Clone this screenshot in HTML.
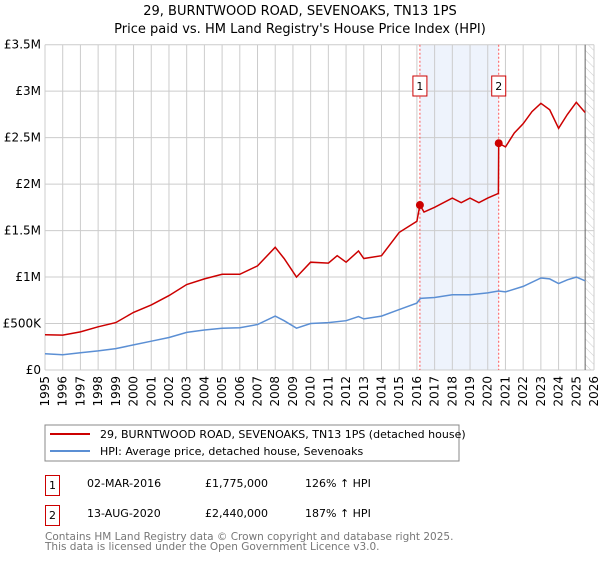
<!DOCTYPE html>
<html><head><meta charset="utf-8"><style>
body{margin:0;background:#fff;font-family:"DejaVu Sans","Liberation Sans",sans-serif;}
svg text{font-family:"DejaVu Sans","Liberation Sans",sans-serif;}
</style></head><body>
<svg id="chart" width="600" height="560" xmlns="http://www.w3.org/2000/svg">
<defs><pattern id="hatch" width="6" height="6" patternUnits="userSpaceOnUse" patternTransform="rotate(-45)"><line x1="0" y1="0" x2="0" y2="6" stroke="#ccc" stroke-width="1"/></pattern></defs>
<text x="300" y="15" text-anchor="middle" font-size="13">29, BURNTWOOD ROAD, SEVENOAKS, TN13 1PS</text>
<text x="300" y="33" text-anchor="middle" font-size="13">Price paid vs. HM Land Registry's House Price Index (HPI)</text>
<g id="grid"></g><g id="marks"></g><g id="axes"></g>
<rect x="45" y="425" width="414" height="36" fill="#fff" stroke="#888"/>
<line x1="50" y1="434" x2="90" y2="434" stroke="#cc0000" stroke-width="2"/>
<text x="100" y="438" font-size="11">29, BURNTWOOD ROAD, SEVENOAKS, TN13 1PS (detached house)</text>
<line x1="50" y1="451" x2="90" y2="451" stroke="#5b8fd4" stroke-width="2"/>
<text x="100" y="455" font-size="11">HPI: Average price, detached house, Sevenoaks</text>
<rect x="45.5" y="475.5" width="14" height="20" fill="#fff" stroke="#cc0000"/>
<text x="52.5" y="489" text-anchor="middle" font-size="11">1</text>
<text x="87" y="487" font-size="11">02-MAR-2016</text>
<text x="205" y="487" font-size="11">£1,775,000</text>
<text x="305" y="487" font-size="11">126% ↑ HPI</text>
<rect x="45.5" y="505.5" width="14" height="20" fill="#fff" stroke="#cc0000"/>
<text x="52.5" y="519" text-anchor="middle" font-size="11">2</text>
<text x="87" y="517" font-size="11">13-AUG-2020</text>
<text x="205" y="517" font-size="11">£2,440,000</text>
<text x="305" y="517" font-size="11">187% ↑ HPI</text>
<text x="45" y="540" font-size="10.5" fill="#777">Contains HM Land Registry data © Crown copyright and database right 2025.</text>
<text x="45" y="550" font-size="10.5" fill="#777">This data is licensed under the Open Government Licence v3.0.</text>
</svg>
<script>
const hpiYears=[1995,1996,1997,1998,1999,2000,2001,2002,2003,2004,2005,2006,2007,2008,2008.5,2009.2,2010,2011,2012,2012.7,2013,2014,2015,2016,2016.2,2017,2018,2019,2020,2020.6,2021,2022,2023,2023.5,2024,2024.5,2025,2025.5];
const hpiValues=[175,165,185,205,230,270,310,350,405,430,450,455,490,580,530,450,500,510,530,575,550,580,650,720,770,780,810,810,830,850,840,900,990,980,930,970,1000,960];
const propYears=[1995,1996,1997,1998,1999,2000,2001,2002,2003,2004,2005,2006,2007,2008,2008.5,2009.2,2010,2011,2011.5,2012,2012.7,2013,2014,2015,2016,2016.17,2016.4,2017,2018,2018.5,2019,2019.5,2020,2020.6,2020.62,2021,2021.5,2022,2022.5,2023,2023.5,2024,2024.5,2025,2025.5];
const propValues=[380,375,410,465,510,620,700,800,920,980,1030,1030,1120,1320,1200,1000,1160,1150,1230,1160,1280,1200,1230,1480,1600,1775,1700,1750,1850,1800,1850,1800,1850,1900,2440,2400,2550,2650,2780,2870,2800,2600,2750,2880,2770];
const saleYears=[2016.17,2020.62];
const saleValues=[1775,2440];
const yTicks=[0,500,1000,1500,2000,2500,3000,3500];
const yTickLabels=["£0","£500K","£1M","£1.5M","£2M","£2.5M","£3M","£3.5M"];
const xTicks=[1995,1996,1997,1998,1999,2000,2001,2002,2003,2004,2005,2006,2007,2008,2009,2010,2011,2012,2013,2014,2015,2016,2017,2018,2019,2020,2021,2022,2023,2024,2025,2026];
const X0=45,X1=594,Y0=370,Y1=44.7;
const xs=y=>X0+(y-1995)/(2026-1995)*(X1-X0);
const ys=v=>Y0-v/3500*(Y0-Y1);
const NS="http://www.w3.org/2000/svg";
function mk(parent,tag,attrs){const e=document.createElementNS(NS,tag);for(const k in attrs)e.setAttribute(k,attrs[k]);document.getElementById(parent).appendChild(e);return e;}
// shaded period and hatch
let e=mk('grid','rect',{x:xs(saleYears[0]),y:Y1,width:xs(saleYears[1])-xs(saleYears[0]),height:Y0-Y1,fill:'#eef3fc'});


e=mk('grid','rect',{x:xs(2025.5),y:Y1,width:X1-xs(2025.5),height:Y0-Y1,fill:'url(#hatch)'});


xTicks.forEach(t=>{
 let l=mk('grid','line',{x1:xs(t),x2:xs(t),y1:Y1,y2:Y0,stroke:'#ccc','stroke-width':1});
 
 
 let tx=mk('axes','text',{x:0,y:0,'font-size':12,'text-anchor':'end',transform:`translate(${xs(t)+4},${Y0+6}) rotate(-90)`});
 tx.textContent=t;
 
 
});
yTicks.forEach((t,i)=>{
 let l=mk('grid','line',{x1:X0,x2:X1,y1:ys(t),y2:ys(t),stroke:'#ccc','stroke-width':1});
 
 
 let tx=mk('axes','text',{x:X0-4,y:ys(t)+4,'font-size':12,'text-anchor':'end'});
 tx.textContent=yTickLabels[i];
 
 
});
e=mk('grid','line',{x1:xs(2025.5),x2:xs(2025.5),y1:Y1,y2:Y0,stroke:'#666','stroke-width':1});


saleYears.forEach((s,i)=>{
 let l=mk('grid','line',{x1:xs(s),x2:xs(s),y1:Y1,y2:Y0,stroke:'#f55','stroke-width':1,'stroke-dasharray':'2,2'});
 
 
 let r=mk('marks','rect',{x:xs(s)-7,y:76,width:14,height:20,fill:'#fff',stroke:'#cc0000'});
 
 
 let t=mk('marks','text',{x:xs(s),y:90,'font-size':11,'text-anchor':'middle'});
 t.textContent=i+1;
 
 
});
const pts=(a,b)=>a.map((y,i)=>xs(y).toFixed(1)+','+ys(b[i]).toFixed(1)).join(' ');
e=mk('marks','polyline',{points:pts(hpiYears,hpiValues),fill:'none',stroke:'#5b8fd4','stroke-width':1.5});


e=mk('marks','polyline',{points:pts(propYears,propValues),fill:'none',stroke:'#cc0000','stroke-width':1.5});


saleYears.forEach((s,i)=>{
 let c=mk('marks','circle',{cx:xs(s),cy:ys(saleValues[i]),r:4,fill:'#cc0000'});
 
 
});
</script>
</body></html>
